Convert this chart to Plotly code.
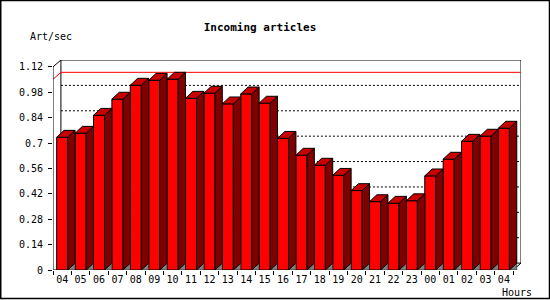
import plotly.graph_objects as go

hours = ["04", "05", "06", "07", "08", "09", "10", "11", "12", "13", "14", "15", "16",
         "17", "18", "19", "20", "21", "22", "23", "00", "01", "02", "03", "04"]
values = [0.732, 0.754, 0.853, 0.942, 1.019, 1.046, 1.052, 0.947, 0.975, 0.916, 0.971, 0.920,
          0.726, 0.633, 0.578, 0.522, 0.438, 0.377, 0.368, 0.382, 0.519, 0.611, 0.710, 0.738, 0.782]
y_ticks = [0, 0.14, 0.28, 0.42, 0.56, 0.7, 0.84, 0.98, 1.12]
y_tick_text = ["0", "0.14", "0.28", "0.42", "0.56", "0.7", "0.84", "0.98", "1.12"]

n = len(values)
idx = list(range(n))
ymax = y_ticks[-1]

# 3D geometry (data units)
wdx, wdy = 0.43, 0.038      # back wall offset
bw, bdx, bdy = 0.6, 0.40, 0.038  # bar width and depth

RED, DARK, TOP, GREY = "#FF0000", "#800000", "#C80000", "#808080"
FONT = "DejaVu Sans Mono"

xlo, xhi = -0.5, n - 0.5 + wdx
W, H = 550, 300
L, R, T, B = 53, 29, 60, 30
pw, ph = W - L - R, H - T - B


def px_x(p):
    return (p - L) / pw


def px_y(p):
    return (H - B - p) / ph


shapes = []
# back wall
shapes.append(dict(type="rect", x0=-0.5 + wdx, x1=n - 0.5 + wdx, y0=wdy, y1=ymax + wdy,
                   line=dict(color="black", width=1), layer="below"))
# dotted grid on back wall
for t in y_ticks[1:-1]:
    shapes.append(dict(type="line", x0=-0.5 + wdx, x1=n - 0.5 + wdx, y0=t + wdy, y1=t + wdy,
                       line=dict(color="black", width=1, dash="2px,2px"), layer="below"))
# max line
vmax = max(values)
shapes.append(dict(type="line", x0=-0.5 + wdx, x1=n - 0.5 + wdx, y0=vmax + wdy, y1=vmax + wdy,
                   line=dict(color="red", width=1), layer="below"))
shapes.append(dict(type="line", x0=-0.5, x1=-0.5 + wdx, y0=vmax, y1=vmax + wdy,
                   line=dict(color="red", width=1), layer="below"))
# front y axis and top diagonal
shapes.append(dict(type="line", x0=-0.5, x1=-0.5, y0=0, y1=ymax,
                   line=dict(color="black", width=1), layer="below"))
shapes.append(dict(type="line", x0=-0.5, x1=-0.5 + wdx, y0=ymax, y1=ymax + wdy,
                   line=dict(color="black", width=1), layer="below"))
# floor
shapes.append(dict(type="line", x0=-0.5, x1=n - 0.5, y0=0, y1=0,
                   line=dict(color="black", width=1), layer="below"))
shapes.append(dict(type="line", x0=n - 0.5, x1=n - 0.5 + wdx, y0=0, y1=wdy,
                   line=dict(color="black", width=1), layer="below"))
# image border
shapes.append(dict(type="rect", xref="paper", yref="paper",
                   x0=px_x(0.75), x1=px_x(W - 0.5),
                   y0=px_y(H - 1.5), y1=px_y(0.5),
                   line=dict(color="black", width=1.5), layer="above"))

fig = go.Figure()

gx, gy = [], []
sx, sy = [], []
tx, ty = [], []
for i, v in zip(idx, values):
    xl, xr = i - bw / 2, i + bw / 2
    gx += [xr, xr + bdx, xr + bdx, xr, None]
    gy += [0, bdy, 0, 0, None]
    sx += [xr, xr, xr + bdx, xr + bdx, xr, None]
    sy += [0, v, v + bdy, bdy, 0, None]
    tx += [xl, xr, xr + bdx, xl + bdx, xl, None]
    ty += [v, v, v + bdy, v + bdy, v, None]

fig.add_trace(go.Bar(x=idx, y=values, width=bw, marker=dict(color=RED, line=dict(color="black", width=1)),
                     hoverinfo="skip"))
fig.add_trace(go.Scatter(x=gx, y=gy, mode="lines", fill="toself", fillcolor=GREY,
                         line=dict(color="black", width=0.5), hoverinfo="skip"))
fig.add_trace(go.Scatter(x=sx, y=sy, mode="lines", fill="toself", fillcolor=DARK,
                         line=dict(color="black", width=1), hoverinfo="skip"))
fig.add_trace(go.Scatter(x=tx, y=ty, mode="lines", fill="toself", fillcolor=TOP,
                         line=dict(color="black", width=1), hoverinfo="skip"))

fig.update_layout(
    width=W, height=H, margin=dict(l=L, r=R, t=T, b=B),
    paper_bgcolor="white", plot_bgcolor="white", showlegend=False,
    shapes=shapes,
    title=dict(text="Incoming articles", x=260 / W, xanchor="center", y=1 - 27 / H, yanchor="middle",
               font=dict(family=FONT, size=11, color="black", weight="bold")),
    xaxis=dict(range=[xlo, xhi], tickvals=idx, ticktext=hours, ticks="", showgrid=False,
               zeroline=False, showline=False, tickfont=dict(family=FONT, size=10, color="black"),
               ticklabelstandoff=2,
               minor=dict(tick0=-0.5, dtick=1, ticks="outside", ticklen=4, tickcolor="black", showgrid=False)),
    yaxis=dict(range=[0, ymax + wdy], tickvals=y_ticks, ticktext=y_tick_text, ticks="outside",
               ticklen=4, tickcolor="black", showgrid=False, zeroline=False, showline=False,
               tickfont=dict(family=FONT, size=10, color="black"), ticklabelstandoff=3),
    annotations=[
        dict(text="Art/sec", xref="paper", yref="paper", x=px_x(28), y=px_y(37),
             xanchor="left", yanchor="middle", showarrow=False,
             font=dict(family=FONT, size=10, color="black")),
        dict(text="Hours", xref="paper", yref="paper", x=px_x(534), y=px_y(292),
             xanchor="right", yanchor="middle", showarrow=False,
             font=dict(family=FONT, size=10, color="black")),
    ],
)

fig.write_html("out.html")
